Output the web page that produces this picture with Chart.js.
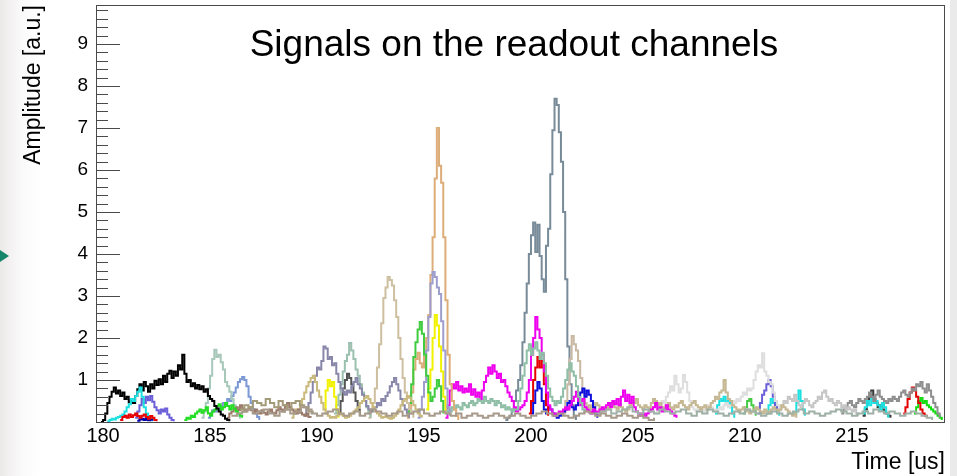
<!DOCTYPE html>
<html>
<head>
<meta charset="utf-8">
<title>Signals on the readout channels</title>
<script src="https://cdn.jsdelivr.net/npm/chart.js@4.4.1/dist/chart.umd.min.js"></script>
<style>
  html, body { margin: 0; padding: 0; background: #ffffff; overflow: hidden; }
  #wrap { position: relative; width: 957px; height: 476px; }
  #leftEdge { position: absolute; left: 0; top: 0; width: 40px; height: 476px;
    background: linear-gradient(to right, #ebe8e8 0px, #f3f1f1 10px, #fbfafa 22px, #ffffff 40px); }
  #rightEdge { position: absolute; left: 950px; top: 0; width: 7px; height: 476px; background: #ebeaea; }
  #marker { position: absolute; left: 0; top: 250px; width: 0; height: 0;
    border-top: 6px solid transparent; border-bottom: 6px solid transparent; border-left: 9px solid #16866a; }
  canvas { position: absolute; left: 0; top: 0; }
</style>
</head>
<body>
<div id="wrap">
  <div id="leftEdge"></div>
  <div id="rightEdge"></div>
  <div id="marker"></div>
  <canvas id="chart" width="957" height="476"></canvas>
</div>
<script>
// ---- axis ranges and tick labels ----
const timeRange = [179.67, 219.35];      // us
const amplitudeRange = [0, 9.93];         // a.u.
const timeTickStep = 5;
const amplitudeTickStep = 1;
const amplitudeMinorStep = 0.2;
const chartTitle = 'Signals on the readout channels';
const xTitle = 'Time [us]';
const yTitle = 'Amplitude [a.u.]';

// ---- sampled channel waveforms (bin width in us, first bin low edge, amplitudes) ----
const BIN = 0.1;
const COARSE_BIN = 0.25;

const baseA = [0.15,0.2,0.25,0.3,0.2,0.25,0.3,0.2,0.15,0.25, 0.3,0.2,0.25,0.35,0.3,0.2,0.15,0.2,0.25,0.3,
  0.2,0.15,0.2,0.25,0.15,0.2,0.3,0.25,0.2,0.15, 0.2,0.25,0.15,0.2,0.25,0.3,0.2,0.15,0.2,0.25,
  0.2,0.15,0.2,0.1,0.15,0.2,0.15,0.1,0.15,0.2, 0.15,0.1,0.15,0.2,0.15,0.1,0.15,0.2,0.25,0.2,
  0.15,0.2,0.15,0.1,0.15,0.2,0.25,0.2,0.15,0.2, 0.15,0.1,0.15,0.2,0.15,0.1,0.15,0.1,0.05,0.1];
const baseAStart = 186.0;

const baseB = [0.2,0.25,0.3,0.2,0.25,0.3,0.35,0.25,0.2,0.3, 0.25,0.2,0.3,0.25,0.2,0.25,0.3,0.2,0.15,0.25,
  0.2,0.3,0.25,0.2,0.15,0.2,0.25,0.2,0.3,0.25, 0.2,0.15,0.2,0.25,0.2,0.15,0.2,0.25,0.3,0.2,
  0.25,0.2,0.15,0.2,0.25,0.3,0.25,0.2,0.15,0.2, 0.25,0.2,0.3,0.25,0.2,0.25,0.2,0.15,0.2,0.25,
  0.2,0.15,0.1,0.05];
const baseBStart = 203.0;

const oliveGray = [0.3,0.4,0.35,0.5,0.45,0.4,0.55,0.45,0.35,0.5,0.4,0.3,0.45,0.5,0.4,0.35,0.25,0.2];
const oliveGrayStart = 186.4;

const chBlack = [0,0.05,0.2,0.45,0.6,0.72,0.82,0.68,0.75,0.62, 0.7,0.55,0.6,0.47,0.52,0.45,0.62,0.78,0.9,0.75,
  0.95,0.85,0.72,0.9,0.8,0.98,0.88,1.02,0.9,1.1, 0.95,1.15,1.22,1.05,1.2,1.1,1.35,1.25,1.6,1.15,
  0.95,1.0,0.85,0.92,0.8,0.88,0.78,0.85,0.72,0.78, 0.62,0.55,0.5,0.38,0.32,0.25,0.18,0.15,0.08,0.05,0.02];
const chBlackStart = 179.9;

const chCyan = [0.02,0.05,0.08,0.06,0.1,0.12,0.15,0.18,0.25,0.35,0.42,0.55,0.5,0.62,0.72,0.82,0.6,0.35,0.2,0.1,0.05,0.02];
const chCyanStart = 180.2;

const chSlateBlue = [0.1,0.25,0.4,0.55,0.45,0.6,0.52,0.62,0.48,0.35,0.28,0.2,0.3,0.25,0.32,0.18,0.1,0.05,0.02];
const chSlateBlueStart = 181.5;

const chRed = [0.05,0.12,0.15,0.1,0.18,0.12,0.16,0.2,0.14,0.1,0.15,0.18,0.12,0.08,0.14,0.1,0.05,0.02];
const chRedStart = 180.8;

const chNavy = [0.03,0.06,0.08,0.05,0.07,0.04,0.06,0.03];
const chNavyStart = 181.6;

const chLightTeal = [0.1,0.25,0.45,0.8,1.1,1.5,1.72,1.55,1.6,1.42,1.25,0.95,0.85,0.72,0.55,0.4,0.28,0.15,0.08];
const chLightTealStart = 184.6;

const chCornflower = [0.1,0.2,0.28,0.25,0.32,0.3,0.38,0.45,0.4,0.55,0.5,0.62,0.7,0.82,0.95,1.02,1.07,1.0,0.85,0.6,0.45,0.3,0.2,0.12,0.05];
const chCornflowerStart = 184.9;

const chGreen = [0.05,0.1,0.08,0.15,0.12,0.2,0.25,0.3,0.22,0.28,0.35,0.2,0.15,0.25,0.3,0.38,0.42,0.3,0.35,0.45,0.38,0.3,0.4,0.32,0.25,0.2,0.15,0.1];
const chGreenStart = 183.8;

const chBrown = [0.1,0.2,0.25,0.3,0.35,0.28,0.4,0.32,0.25,0.3, 0.35,0.28,0.22,0.3,0.25,0.2,0.28,0.22,0.18,0.25,
  0.3,0.22,0.2,0.28,0.35,0.3,0.25,0.4,0.45,0.35, 0.3,0.25,0.2,0.3,0.22,0.18,0.15,0.2,0.12,0.1];
const chBrownStart = 185.8;

const chPurpleGray = [0.15,0.3,0.45,0.7,0.95,1.1,1.3,1.25,1.45,1.8, 1.75,1.5,1.55,1.35,1.4,1.15,0.95,0.8,0.72,0.65,
  0.75,0.7,0.85,0.95,1.05,0.9,0.8,0.65,0.5,0.38, 0.3,0.25,0.3,0.35,0.45,0.4,0.55,0.5,0.62,0.7,
  0.85,0.95,1.05,0.9,0.75,0.55,0.4,0.3,0.2,0.1];
const chPurpleGrayStart = 189.4;

const chSeaGray = [0.2,0.4,0.65,0.9,1.2,1.45,1.6,1.88,1.7,1.5,1.25,1.1,0.9,0.7,0.5,0.35,0.2,0.1];
const chSeaGrayStart = 190.8;

const chDarkGray = [0.2,0.5,0.8,1.0,1.15,1.05,0.9,0.7,0.5,0.3,0.15];
const chDarkGrayStart = 191.0;

const chKhaki = [0.1,0.2,0.3,0.25,0.4,0.55,0.7,0.85,0.95,1.05, 1.1,0.95,0.75,0.6,0.45,0.3,0.2,0.15,0.1,0.12,
  0.1,0.15,0.2,0.18,0.15,0.1,0.12,0.15,0.2,0.25, 0.3,0.35,0.45,0.5,0.58,0.62,0.55,0.45,0.35,0.25,
  0.2,0.15,0.1,0.12,0.15,0.1,0.08,0.1,0.15,0.2, 0.3,0.4,0.5,0.55,0.62,0.58,0.5,0.4,0.3,0.2,0.15,0.1];
const chKhakiStart = 188.8;

const chTan = [0.1,0.25,0.45,0.8,1.3,1.85,2.35,2.95,3.2,3.45,3.38,3.25,2.9,2.5,2.0,1.5,1.05,0.7,0.45,0.3,0.2,0.1];
const chTanStart = 192.4;

const chOrange = [0.1,0.3,0.7,1.25,1.5,1.65,1.4,1.3,1.55,2.0,2.55,3.5,4.4,5.8,7.0,6.1,5.7,4.4,2.9,1.6,0.9,0.5,0.3,0.15,0.05];
const chOrangeStart = 194.2;

const chLavender = [0.1,0.3,0.6,0.95,1.7,2.5,3.3,3.57,3.45,3.2,3.05,2.4,1.7,0.8,0.35,0.15];
const chLavenderStart = 194.7;

const chYellow = [0.3,0.8,1.25,2.0,2.55,2.3,1.8,1.2,0.6,0.2];
const chYellowStart = 195.1;

const chYellowEarly = [0.3,0.75,1.0,0.85,0.95,0.6,0.3,0.1];
const chYellowEarlyStart = 190.3;

const chGreenMid = [0.2,0.45,0.9,1.55,1.9,2.2,2.38,2.1,1.6,1.1,0.7,0.5,0.6,0.8,1.0,0.85,0.5,0.2];
const chGreenMidStart = 194.2;

const chMagenta = [0.1,0.4,0.75,0.9,0.8,0.95,0.75,0.85,0.7,0.8, 0.72,0.9,0.65,0.78,0.6,0.7,0.55,0.75,0.95,1.1,
  1.3,1.15,1.35,1.2,1.05,1.15,0.95,1.0,0.85,0.7, 0.6,0.5,0.35,0.25,0.3,0.35,0.4,0.5,0.7,1.0,
  1.6,2.0,2.5,2.2,2.0,1.6,1.2,0.7,0.4,0.3, 0.2,0.15,0.2,0.25,0.2,0.3,0.35,0.3,0.4,0.5,
  0.6,0.72,0.5,0.4,0.55,0.35,0.3,0.25,0.2,0.3, 0.25,0.2,0.3,0.35,0.3,0.4,0.45,0.35,0.5,0.42,
  0.55,0.4,0.6,0.75,0.5,0.65,0.45,0.6,0.35,0.25, 0.2,0.15,0.2,0.15,0.2,0.25,0.3,0.35,0.45,0.3,
  0.35,0.25,0.3,0.4,0.3,0.25,0.2,0.15,0.1];
const chMagentaStart = 196.0;

const chSeaGreen = [0.2,0.3,0.25,0.35,0.3,0.4,0.35,0.3,0.45,0.4, 0.35,0.45,0.5,0.4,0.45,0.55,0.5,0.45,0.6,0.5,
  0.45,0.55,0.5,0.4,0.5,0.45,0.35,0.4,0.3,0.35, 0.3,0.25,0.3,0.3,0.5,0.8,1.1,1.4,1.7,1.85,
  1.6,1.75,1.9,1.7,1.5,1.65,1.4,1.1,0.8,0.6, 0.5,0.4,0.5,0.45,0.6,0.8,1.0,1.25,1.4,1.2,
  1.1,0.85,0.6,0.45,0.3,0.2];
const chSeaGreenStart = 196.0;

const chSlate = [0.05,0.1,0.15,0.3,0.5,0.75,1.0,1.35,1.9,2.6, 3.3,4.0,4.45,4.75,4.05,4.7,3.95,3.4,3.1,4.2,
  4.6,5.9,6.95,7.7,7.55,6.9,6.2,5.0,3.4,1.8, 0.9,0.4,0.15,0.05];
const chSlateStart = 198.8;

const chRedMid = [0.2,0.5,1.0,1.3,1.55,1.3,1.45,0.9,0.4,0.15];
const chRedMidStart = 199.9;

const chBlue = [0.2,0.45,0.75,0.95,0.8,0.5,0.3,0.2,0.35,0.3, 0.2,0.15,0.1,0.15,0.2,0.25,0.3,0.45,0.5,0.35,
  0.3,0.4,0.5,0.7,0.8,0.6,0.75,0.65,0.5,0.35,0.2,0.1];
const chBlueStart = 200.0;

const chTanLate = [0.2,0.5,0.9,1.5,2.05,1.85,1.7,1.45,1.05,0.7,0.45,0.3,0.2];
const chTanLateStart = 201.5;

const chKhakiLate = [0.3,0.35,0.4,0.3,0.35,0.45,0.4,0.3,0.25,0.3, 0.35,0.3,0.4,0.45,0.35,0.3,0.4,0.35,0.3,0.25,
  0.3,0.4,0.5,0.45,0.55,0.4,0.35,0.3,0.4,0.35, 0.3,0.45,0.55,0.5,0.4,0.45,0.35,0.3,0.4,0.45,
  0.35,0.3,0.4,0.35,0.45,0.5,0.4,0.35,0.3,0.4, 0.45,0.5,0.4,0.35,0.3,0.35,0.4,0.3,0.35,0.45,
  0.5,0.6,0.55,0.7,0.75,1.0,0.7,0.55,0.5,0.4, 0.35,0.3,0.25,0.3,0.35,0.25,0.3,0.2,0.25,0.3,
  0.35,0.3,0.25,0.2,0.3,0.25,0.2,0.3,0.35,0.3, 0.25,0.3,0.4,0.35,0.3,0.25,0.2,0.15,0.2,0.1];
const chKhakiLateStart = 202.5;

const chLightGray = [0.2,0.3,0.35,0.5,0.45,0.6,0.7,0.85,0.75,1.1, 0.9,0.7,0.8,1.12,0.95,0.7,0.5,0.35,0.3,0.25,
  0.3,0.35,0.3,0.25,0.3,0.4,0.35,0.3,0.25,0.3, 0.35,0.3,0.4,0.45,0.35,0.4,0.5,0.45,0.55,0.5,
  0.6,0.7,0.65,0.8,0.75,0.8,1.0,1.2,1.35,1.3, 1.64,1.2,1.1,0.95,0.9,0.7,0.5,0.4,0.3,0.25];
const chLightGrayStart = 205.8;

const chSilver = [0.3,0.4,0.5,0.45,0.6,0.55,0.5,0.65,0.5,0.4, 0.35,0.45,0.55,0.5,0.4,0.35,0.45,0.5,0.6,0.55,
  0.7,0.75,0.6,0.5,0.55,0.45,0.4,0.5,0.45,0.35, 0.4,0.3,0.35,0.3,0.25,0.3,0.2,0.15];
const chSilverStart = 211.6;

const chGray = [0.2,0.3,0.35,0.45,0.5,0.4,0.35,0.45,0.55,0.5, 0.45,0.55,0.6,0.7,0.6,0.5,0.65,0.75,0.6,0.55,
  0.5,0.45,0.55,0.5,0.6,0.55,0.5,0.6,0.7,0.75, 0.65,0.6,0.7,0.8,0.75,0.9,0.85,0.95,0.8,0.7,
  0.9,0.75,0.6,0.45,0.35,0.2,0.1];
const chGrayStart = 214.5;

const chCharcoal = [0.15,0.3,0.5,0.6,0.75,0.55,0.45,0.35,0.4,0.3,0.25,0.2,0.15,0.1];
const chCharcoalStart = 215.5;

const chRedLate = [0.2,0.35,0.55,0.7,0.82,0.75,0.6,0.45,0.3,0.2,0.15,0.1];
const chRedLateStart = 217.4;

const chGreenLate = [0.2,0.35,0.5,0.57,0.45,0.5,0.4,0.35,0.3,0.25,0.2,0.15,0.1,0.05];
const chGreenLateStart = 217.9;

const chGreenTail = [0.2,0.35,0.5,0.55,0.4,0.3,0.15];
const chGreenTailStart = 209.9;

const chSlateBlueLate = [0.2,0.45,0.65,0.75,0.9,1.0,0.85,0.6,0.4,0.2];
const chSlateBlueLateStart = 210.6;

const chCyanA = [0.2,0.4,0.55,0.5,0.6,0.45,0.5,0.35,0.2,0.1];
const chCyanAStart = 208.6;
const chCyanB = [0.2,0.4,0.55,0.45,0.5,0.3,0.15];
const chCyanBStart = 211.0;
const chCyanC = [0.2,0.45,0.75,0.5,0.3,0.15];
const chCyanCStart = 212.3;
const chCyanD = [0.2,0.35,0.5,0.4,0.55,0.45,0.5,0.4,0.3,0.45,0.35,0.2,0.1];
const chCyanDStart = 215.5;

// ---- line colours per channel (drawing order: first listed is drawn first) ----
const channels = [
  { values: baseA,            start: baseAStart,            bin: COARSE_BIN, color: '#a89a8a' },
  { values: baseB,            start: baseBStart,            bin: COARSE_BIN, color: '#9fb0a6' },
  { values: oliveGray,        start: oliveGrayStart,        bin: 0.2,        color: '#a39a78' },
  { values: chRed,            start: chRedStart,            bin: BIN, color: '#e60000' },
  { values: chNavy,           start: chNavyStart,           bin: BIN, color: '#0000aa' },
  { values: chCyan,           start: chCyanStart,           bin: BIN, color: '#1ee0e0' },
  { values: chSlateBlue,      start: chSlateBlueStart,      bin: BIN, color: '#6a5fd8' },
  { values: chBlack,          start: chBlackStart,          bin: BIN, color: '#000000' },
  { values: chGreen,          start: chGreenStart,          bin: BIN, color: '#22dd22' },
  { values: chBrown,          start: chBrownStart,          bin: BIN, color: '#9a7a6a' },
  { values: chLightTeal,      start: chLightTealStart,      bin: BIN, color: '#a7c8ba' },
  { values: chCornflower,     start: chCornflowerStart,     bin: BIN, color: '#7b98d4' },
  { values: chKhaki,          start: chKhakiStart,          bin: BIN, color: '#c9b97c' },
  { values: chYellowEarly,    start: chYellowEarlyStart,    bin: BIN, color: '#f2f200' },
  { values: chPurpleGray,     start: chPurpleGrayStart,     bin: BIN, color: '#8887aa' },
  { values: chSeaGray,        start: chSeaGrayStart,        bin: BIN, color: '#9cc0b0' },
  { values: chDarkGray,       start: chDarkGrayStart,       bin: BIN, color: '#555555' },
  { values: chTan,            start: chTanStart,            bin: BIN, color: '#cdbf9f' },
  { values: chGreenMid,       start: chGreenMidStart,       bin: BIN, color: '#3fcc3f' },
  { values: chLavender,       start: chLavenderStart,       bin: BIN, color: '#9e9ece' },
  { values: chYellow,         start: chYellowStart,         bin: BIN, color: '#f2f200' },
  { values: chOrange,         start: chOrangeStart,         bin: BIN, color: '#ddad79' },
  { values: chSeaGreen,       start: chSeaGreenStart,       bin: BIN, color: '#8fbea6' },
  { values: chMagenta,        start: chMagentaStart,        bin: BIN, color: '#ee00ee' },
  { values: chRedMid,         start: chRedMidStart,         bin: BIN, color: '#e60000' },
  { values: chBlue,           start: chBlueStart,           bin: BIN, color: '#1010dd' },
  { values: chTanLate,        start: chTanLateStart,        bin: BIN, color: '#c9b9a2' },
  { values: chSlate,          start: chSlateStart,          bin: BIN, color: '#788b99' },
  { values: chKhakiLate,      start: chKhakiLateStart,      bin: BIN, color: '#c6b793' },
  { values: chLightGray,      start: chLightGrayStart,      bin: BIN, color: '#dedede' },
  { values: chCyanA,          start: chCyanAStart,          bin: BIN, color: '#1ee0e0' },
  { values: chGreenTail,      start: chGreenTailStart,      bin: BIN, color: '#44cc44' },
  { values: chSlateBlueLate,  start: chSlateBlueLateStart,  bin: BIN, color: '#6a5fd8' },
  { values: chCyanB,          start: chCyanBStart,          bin: BIN, color: '#1ee0e0' },
  { values: chSilver,         start: chSilverStart,         bin: BIN, color: '#c6c6c6' },
  { values: chCyanC,          start: chCyanCStart,          bin: BIN, color: '#1ee0e0' },
  { values: chGray,           start: chGrayStart,           bin: BIN, color: '#8e8e8e' },
  { values: chCyanD,          start: chCyanDStart,          bin: BIN, color: '#1ee0e0' },
  { values: chCharcoal,       start: chCharcoalStart,       bin: BIN, color: '#3a3a3a' },
  { values: chRedLate,        start: chRedLateStart,        bin: BIN, color: '#e60000' },
  { values: chGreenLate,      start: chGreenLateStart,      bin: BIN, color: '#11dd11' }
];

const datasets = channels.map((ch, idx) => ({
  label: 'channel ' + (idx + 1),
  data: ch.values.map((v, i) => ({ x: ch.start + i * ch.bin, y: v })),
  borderColor: ch.color,
  borderWidth: 2,
  pointRadius: 0,
  stepped: true,
  fill: false
}));

const FONT = '"Liberation Sans", Arial, Helvetica, sans-serif';

// frame, inner y tick marks and the in-frame title
const framePlugin = {
  id: 'frame',
  afterDatasetsDraw(chart) {
    const { ctx, chartArea: { left, top, right, bottom }, scales: { y } } = chart;
    ctx.save();
    ctx.strokeStyle = '#4a4a4a';
    ctx.lineWidth = 1;
    ctx.strokeRect(left + 0.5, top + 0.5, right - left - 1, bottom - top);
    ctx.beginPath();
    const nMinor = Math.floor(y.max / amplitudeMinorStep + 1e-6);
    for (let k = 1; k <= nMinor; k++) {
      const v = k * amplitudeMinorStep;
      const py = Math.round(y.getPixelForValue(v)) + 0.5;
      const major = Math.abs(v - Math.round(v)) < 1e-6;
      ctx.moveTo(left, py);
      ctx.lineTo(left + (major ? 24 : 12), py);
    }
    ctx.stroke();
    ctx.fillStyle = '#000000';
    ctx.font = '37px ' + FONT;
    ctx.textAlign = 'center';
    ctx.textBaseline = 'alphabetic';
    ctx.fillText(chartTitle, 514, 56);
    ctx.restore();
  }
};

new Chart(document.getElementById('chart'), {
  type: 'line',
  data: { datasets },
  plugins: [framePlugin],
  options: {
    responsive: false,
    animation: false,
    events: [],
    layout: { padding: { top: 5, right: 12, left: 0, bottom: 0 } },
    plugins: { legend: { display: false }, tooltip: { enabled: false }, title: { display: false } },
    scales: {
      x: {
        type: 'linear',
        min: timeRange[0],
        max: timeRange[1],
        grid: { display: false, drawTicks: false },
        border: { display: false },
        ticks: {
          stepSize: timeTickStep,
          includeBounds: false,
          autoSkip: false,
          maxRotation: 0,
          padding: 2,
          color: '#000000',
          font: { family: FONT, size: 20 }
        },
        title: {
          display: true,
          text: xTitle,
          align: 'end',
          color: '#000000',
          font: { family: FONT, size: 23 },
          padding: { top: 0, bottom: 0 }
        },
        afterFit(scale) {
          scale.height = 54;
          scale.paddingLeft = 0;
          scale.paddingRight = 0;
        }
      },
      y: {
        type: 'linear',
        min: amplitudeRange[0],
        max: amplitudeRange[1],
        grid: { display: false, drawTicks: false },
        border: { display: false },
        ticks: {
          stepSize: amplitudeTickStep,
          includeBounds: false,
          padding: 8,
          color: '#000000',
          font: { family: FONT, size: 19 },
          callback: (v) => (v === 0 ? '' : String(v))
        },
        title: {
          display: true,
          text: yTitle,
          align: 'end',
          color: '#000000',
          font: { family: FONT, size: 23 },
          padding: { top: 20, bottom: 0 }
        },
        afterFit(scale) {
          scale.width = 96;
          scale.paddingTop = 0;
          scale.paddingBottom = 0;
        }
      }
    }
  }
});
</script>
</body>
</html>
